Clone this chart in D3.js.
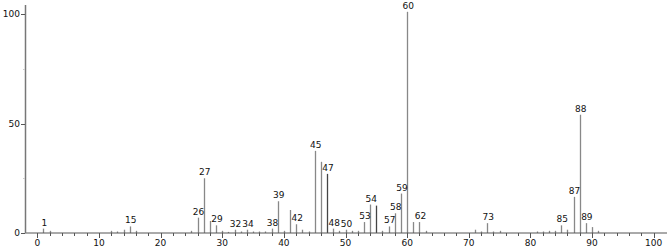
<!DOCTYPE html>
<html>
<head>
<meta charset="utf-8">
<script src="https://cdn.jsdelivr.net/npm/d3@7"></script>
<style>
  body { margin: 0; background: #fff; }
  svg text { font-family: "DejaVu Sans", Verdana, sans-serif; font-size: 9px; fill: #111; }
</style>
</head>
<body>
<div id="chart"></div>
<script>
// peak positions (m/z) and relative intensities
var mz =        [1, 2, 12, 13, 14, 15, 16, 25, 26, 27, 28, 29, 30, 31, 32, 33, 34, 35, 36, 37, 38, 39, 40, 41, 42, 43, 44, 45, 46, 47, 48, 49, 50, 51, 52, 53, 54, 55, 56, 57, 58, 59, 60, 61, 62, 63, 71, 72, 73, 74, 75, 81, 82, 83, 84, 85, 86, 87, 88, 89, 90, 91];
var intensity = [2, 1, 1, 0.7, 1.5, 3, 1, 1, 7, 25, 5.5, 3.5, 1, 0.5, 1.5, 0.7, 1.5, 0.7, 0.7, 0.7, 2, 14.5, 1, 10.5, 4, 1.5, 0.7, 37.5, 32.5, 27, 2, 1, 1.5, 1, 1, 5, 13, 12.5, 1, 3, 9, 18, 101, 5, 5, 1, 1.5, 0.7, 4.5, 0.7, 1, 0.7, 0.7, 1, 1, 3.5, 1.5, 16.5, 54, 4.5, 2.7, 1];
var labelled =  [1, 15, 26, 27, 29, 32, 34, 38, 39, 42, 45, 47, 48, 50, 53, 54, 57, 58, 59, 60, 62, 73, 85, 87, 88, 89];
var xTicks = [0, 10, 20, 30, 40, 50, 60, 70, 80, 90, 100];
var yTicks = [0, 50, 100];

var width = 667, height = 249;
var svg = d3.select('#chart').append('svg')
    .attr('width', width)
    .attr('height', height);

var x = d3.scaleLinear().domain([-2, 102]).range([25, 666]);
var y = d3.scaleLinear().domain([0, 100]).range([233, 14]);

var peaks = mz.map(function(m, i){ return {mz: m, v: intensity[i]}; });

// bars
svg.selectAll('.peak')
    .data(peaks)
    .enter()
    .append('line')
    .attr('class', 'peak')
    .attr('x1', d => Math.round(x(d.mz)) + 0.5)
    .attr('x2', d => Math.round(x(d.mz)) + 0.5)
    .attr('y1', y(0))
    .attr('y2', d => y(d.v))
    .style('stroke', d => (d.mz === 47 || d.mz === 55) ? '#444' : '#888')
    .style('stroke-width', 1.3);

// x axis
var xAxis = svg.append('g')
    .attr('transform', 'translate(0,' + y(0) + ')');
xAxis.append('line')
    .attr('x1', 25).attr('x2', 667)
    .style('stroke', '#555');
xAxis.selectAll('.minor')
    .data(d3.range(0, 101, 2))
    .enter()
    .append('line')
    .attr('x1', d => Math.round(x(d)) + 0.5)
    .attr('x2', d => Math.round(x(d)) + 0.5)
    .attr('y1', 0)
    .attr('y2', d => d % 10 === 0 ? 5 : 3)
    .style('stroke', '#555');
xAxis.selectAll('.xlab')
    .data(xTicks)
    .enter()
    .append('text')
    .attr('x', d => x(d))
    .attr('y', 13)
    .attr('text-anchor', 'middle')
    .text(d => d);

// y axis
var yAxis = svg.append('g');
yAxis.append('line')
    .attr('x1', 25.5).attr('x2', 25.5)
    .attr('y1', 5).attr('y2', y(0))
    .style('stroke', '#777')
    .style('stroke-width', 1.5);
yAxis.selectAll('.ytick')
    .data(d3.range(0, 101, 25))
    .enter()
    .append('line')
    .attr('x1', d => d % 50 === 0 ? 21 : 23)
    .attr('x2', 25)
    .attr('y1', d => Math.round(y(d)) + 0.5)
    .attr('y2', d => Math.round(y(d)) + 0.5)
    .style('stroke', d => d % 50 === 0 ? '#555' : '#ccc');
yAxis.selectAll('.ylab')
    .data(yTicks)
    .enter()
    .append('text')
    .attr('x', 20)
    .attr('y', d => y(d) + 3)
    .attr('text-anchor', 'end')
    .text(d => d);

// peak labels
svg.selectAll('.plab')
    .data(peaks.filter(d => labelled.indexOf(d.mz) >= 0))
    .enter()
    .append('text')
    .attr('class', 'plab')
    .attr('x', d => x(d.mz) + 1)
    .attr('y', d => y(d.v) - 3)
    .attr('text-anchor', 'middle')
    .text(d => d.mz);
</script>
</body>
</html>
